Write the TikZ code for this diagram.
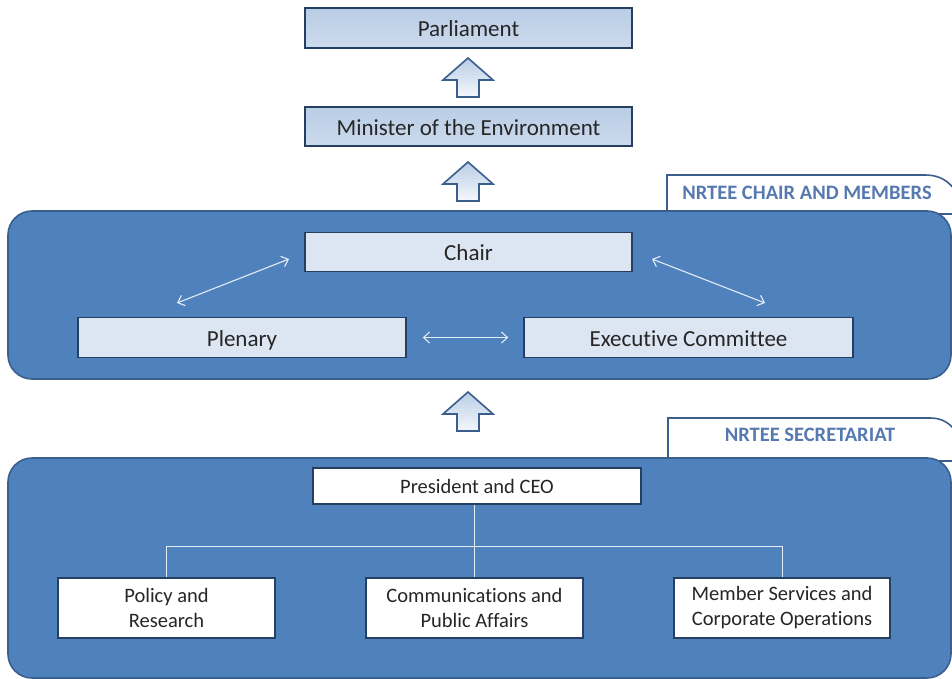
\documentclass[tikz,border=0pt]{standalone}
\usepackage{fontspec}
\setmainfont{Carlito}[Ligatures=NoCommon]
\usetikzlibrary{arrows.meta}
\definecolor{panel}{HTML}{4F81BD}
\definecolor{panelline}{HTML}{3A5F8C}
\definecolor{boxline}{HTML}{243F60}
\definecolor{lightbox}{HTML}{DCE6F2}
\definecolor{midbox}{HTML}{B9CDE5}
\definecolor{midbox2}{HTML}{CCDAED}
\definecolor{tabtext}{HTML}{5679B0}
\definecolor{wline}{HTML}{E4ECF6}
\definecolor{txt}{HTML}{262626}
\begin{document}
\begin{tikzpicture}[x=1pt,y=-1pt,
  box/.style={draw=boxline,line width=1.4pt,inner sep=0pt,align=center,text=txt,font=\fontsize{23}{26}\selectfont},
  oneline/.style={text height=18.5pt,text depth=1pt},
  topbox/.style={box,oneline,top color=midbox,bottom color=midbox2},
  midboxst/.style={box,oneline,fill=lightbox},
  whitebox/.style={box,fill=white,font=\fontsize{20.5}{25}\selectfont},
  panelst/.style={draw=panelline,line width=1.6pt,fill=panel,rounded corners=24pt},
  tabst/.style={draw=panelline,line width=1.6pt,fill=white},
  tablabel/.style={text=tabtext,font=\bfseries\fontsize{20.5}{22}\selectfont,inner sep=0pt},
  blockarr/.style={draw=panelline,line width=1.6pt,top color=midbox,bottom color=white!85!midbox,line join=miter},
  warrow/.style={draw=wline,line width=1.1pt,{Straight Barb[length=6pt,width=11pt]}-{Straight Barb[length=6pt,width=11pt]}},
  orgline/.style={draw=wline,line width=1pt},
  uparrow/.pic={\path[blockarr] (0,0) -- (25,22) -- (11,22) -- (11,39) -- (-11,39) -- (-11,22) -- (-25,22) -- cycle;}
]
\useasboundingbox (0,0) rectangle (952,679);
\fill[white] (0,0) rectangle (952,679);

% top boxes
\node[topbox,minimum width=327pt,minimum height=40pt] (parl) at (468.5,28) {Parliament};
\node[topbox,minimum width=327pt,minimum height=39pt] (min) at (468.5,126.5) {Minister of the Environment};
\pic at (468,58) {uparrow};
\pic at (468,162) {uparrow};

% upper panel with tab
\path[tabst] (667,214) -- (667,175) -- (925,175) .. controls (948,175) and (958,190) .. (966,214) -- cycle;
\node[tablabel] (tab1) at (807,193) {NRTEE CHAIR AND MEMBERS};
\path[panelst] (8,211) rectangle (951,379);

\node[midboxst,minimum width=327pt,minimum height=39pt] (chair) at (468.5,252) {Chair};
\node[midboxst,minimum width=328pt,minimum height=40pt] (plen) at (242,337.5) {Plenary};
\node[midboxst,minimum width=329pt,minimum height=40pt] (exec) at (688.5,337.5) {Executive Committee};

\coordinate (cp1) at (289,259);
\coordinate (cp2) at (177,303);
\coordinate (ce1) at (652,259);
\coordinate (ce2) at (765,303);
\draw[warrow] (cp2) -- (cp1);
\draw[warrow] (ce1) -- (ce2);
\draw[warrow,shorten <=16pt,shorten >=15pt] (plen) -- (exec);

\pic at (468,392) {uparrow};

% lower panel with tab
\path[tabst] (668,461) -- (668,418) -- (930,418) .. controls (950,418) and (960,432) .. (968,461) -- cycle;
\node[tablabel] (tab2) at (810,435) {NRTEE SECRETARIAT};
\path[panelst] (8,458) rectangle (951,678);

\node[whitebox,text height=16pt,text depth=2pt,minimum width=328pt,minimum height=36pt] (pres) at (477,486) {President and CEO};
\node[whitebox,minimum width=217pt,minimum height=60pt] (pol) at (166.5,608) {Policy and\\Research};
\node[whitebox,minimum width=217pt,minimum height=60pt] (comm) at (474.5,608) {Communications and\\Public Affairs};
\node[whitebox,minimum width=216pt,minimum height=60pt] (mem) at (782,608) {Member Services and\\Corporate Operations};

\draw[orgline] (comm.north |- pres.south) -- (comm.north);
\draw[orgline] (pol.north) -- ++(0,-31) -| (mem.north);
\end{tikzpicture}
\end{document}
